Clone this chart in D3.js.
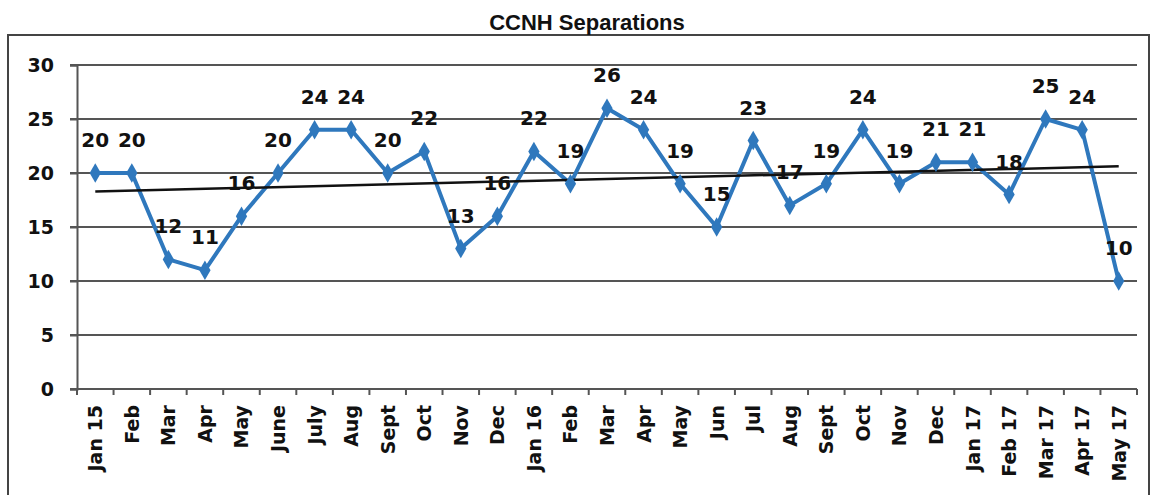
<!DOCTYPE html>
<html>
<head>
<meta charset="utf-8">
<script src="https://cdn.jsdelivr.net/npm/d3@7"></script>
<style>
  html, body { margin: 0; padding: 0; background: #fff; }
  svg { display: block; }
</style>
</head>
<body>
<svg id="chart" width="1153" height="495"></svg>
<script>
// Monthly separations, Jan 2015 – May 2017
const months = ["Jan 15","Feb","Mar","Apr","May","June","July","Aug","Sept","Oct","Nov","Dec",
  "Jan 16","Feb","Mar","Apr","May","Jun","Jul","Aug","Sept","Oct","Nov","Dec",
  "Jan 17","Feb 17","Mar 17","Apr 17","May 17"];
const separations = [20,20,12,11,16,20,24,24,20,22,13,16,22,19,26,24,19,15,23,17,19,24,19,21,21,18,25,24,10];
const yTicks = [0,5,10,15,20,25,30];
const chartTitle = "CCNH Separations";

const svg = d3.select("#chart");
const margin = { left: 77, right: 16, top: 65, bottom: 105 };
const W = 1153, H = 495;

// outer chart frame
svg.append("rect")
  .attr("x", 8).attr("y", 35).attr("width", 1141).attr("height", 470)
  .attr("fill", "none").attr("stroke", "#444").attr("stroke-width", 2);

svg.append("text")
  .attr("x", 587).attr("y", 30)
  .attr("text-anchor", "middle")
  .attr("font-family", "Liberation Sans, Arial, sans-serif")
  .attr("font-weight", "bold").attr("font-size", 22)
  .attr("fill", "#111")
  .text(chartTitle);

const x = d3.scaleBand()
  .domain(d3.range(months.length))
  .range([margin.left, W - margin.right]);
const y = d3.scaleLinear().domain([0, 30]).range([389, 65]);
const cx = i => x(i) + x.bandwidth() / 2;

// horizontal gridlines
svg.append("g")
  .selectAll("line").data(yTicks.filter(d => d > 0)).join("line")
  .attr("x1", margin.left - 7).attr("x2", W - margin.right)
  .attr("y1", d => y(d)).attr("y2", d => y(d))
  .attr("stroke", "#555").attr("stroke-width", 2);

// y axis
const yAxis = svg.append("g")
  .attr("transform", `translate(${margin.left},0)`)
  .call(d3.axisLeft(y).tickValues(yTicks).tickSize(7).tickPadding(16));
yAxis.select(".domain").attr("stroke", "#555").attr("stroke-width", 2);
yAxis.selectAll(".tick line").attr("stroke", "#555").attr("stroke-width", 2);
yAxis.selectAll(".tick text")
  .attr("font-family", "DejaVu Sans, Verdana, sans-serif")
  .attr("font-weight", "bold").attr("font-size", 19).attr("fill", "#111");

// x axis with ticks at category boundaries
const xAxisG = svg.append("g").attr("transform", `translate(0,${y(0)})`);
xAxisG.append("line")
  .attr("x1", margin.left - 7).attr("x2", W - margin.right)
  .attr("stroke", "#555").attr("stroke-width", 2);
xAxisG.selectAll("line.tk").data(d3.range(months.length + 1)).join("line")
  .attr("class", "tk")
  .attr("x1", i => i < months.length ? x(i) : x(months.length - 1) + x.bandwidth())
  .attr("x2", i => i < months.length ? x(i) : x(months.length - 1) + x.bandwidth())
  .attr("y1", 0).attr("y2", 6)
  .attr("stroke", "#555").attr("stroke-width", 2);
xAxisG.selectAll("text").data(months).join("text")
  .attr("transform", (d, i) => `translate(${cx(i) + 7},16) rotate(-90)`)
  .attr("text-anchor", "end")
  .attr("font-family", "DejaVu Sans, Verdana, sans-serif")
  .attr("font-weight", "bold").attr("font-size", 19).attr("fill", "#111")
  .text(d => d);

// least-squares linear trend
const n = separations.length;
const xm = d3.mean(d3.range(n)), ym = d3.mean(separations);
const slope = d3.sum(separations, (v, i) => (i - xm) * (v - ym)) / d3.sum(d3.range(n), i => (i - xm) ** 2);
const intercept = ym - slope * xm;

// series line
const line = d3.line().x((d, i) => cx(i)).y(d => y(d));
svg.append("path")
  .datum(separations)
  .attr("d", line)
  .attr("fill", "none").attr("stroke", "#2f78bd").attr("stroke-width", 4)
  .attr("stroke-linejoin", "round");

// trendline
svg.append("line")
  .attr("x1", cx(0)).attr("y1", y(intercept))
  .attr("x2", cx(n - 1)).attr("y2", y(intercept + slope * (n - 1)))
  .attr("stroke", "#111").attr("stroke-width", 2.5);

// diamond markers
svg.append("g").selectAll("path").data(separations).join("path")
  .attr("transform", (d, i) => `translate(${cx(i)},${y(d)})`)
  .attr("d", d3.symbol(d3.symbolDiamond, 110)())
  .attr("fill", "#2f78bd");

// value labels
svg.append("g").selectAll("text").data(separations).join("text")
  .attr("x", (d, i) => cx(i))
  .attr("y", d => y(d) - 26)
  .attr("text-anchor", "middle")
  .attr("font-family", "DejaVu Sans, Verdana, sans-serif")
  .attr("font-weight", "bold").attr("font-size", 20).attr("fill", "#111")
  .text(d => d);
</script>
</body>
</html>
